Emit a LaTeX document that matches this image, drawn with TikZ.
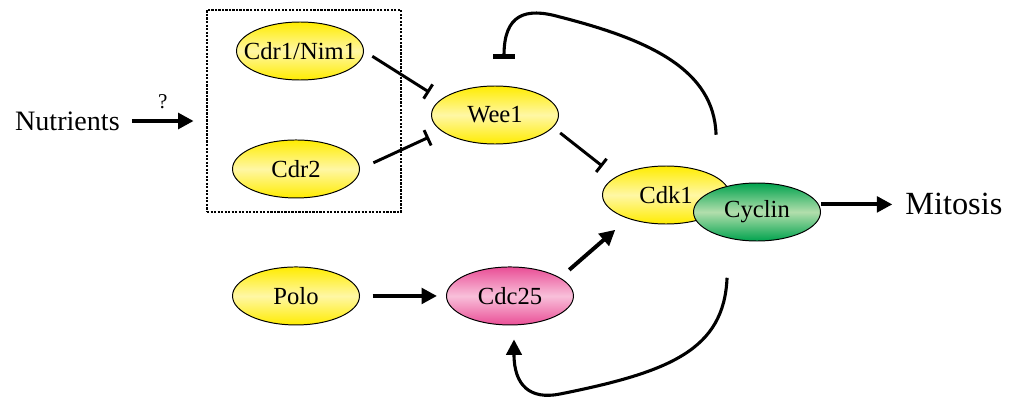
\documentclass[tikz,border=0pt]{standalone}
\usepackage{fontspec}
\setmainfont{Liberation Serif}
\usetikzlibrary{arrows.meta, shapes.geometric, positioning, calc}
\definecolor{yelout}{RGB}{255,236,0}
\definecolor{yelin}{RGB}{255,247,165}
\definecolor{pinkout}{RGB}{234,78,150}
\definecolor{pinkin}{RGB}{248,192,218}
\definecolor{greenout}{RGB}{0,163,78}
\definecolor{greenin}{RGB}{178,222,172}
\tikzset{> = { Triangle[length = 11pt, width = 11pt] }}

\begin{document}
\begin{tikzpicture}[prot/.style = { ellipse, draw, line width = 0.7pt, minimum width = 3.175cm, minimum height = 1.45cm, inner sep = 0pt, font = \fontsize{17.5}{20}\selectfont },
		yprot/.style = { prot, top color = yelout, bottom color = yelout, middle color = yelin },
		pprot/.style = { prot, top color = pinkout, bottom color = pinkout, middle color = pinkin },
		gprot/.style = { prot, top color = greenout, bottom color = greenout, middle color = greenin },
		act/.style = { ->, line width = 2.8pt },
		inh/.style = { -{Bar[width = 12pt]}, line width = 2.1pt },
		dotbox/.style = { draw, line width = 2pt, dash pattern = on 1.6pt off 0.9pt }]
		\useasboundingbox (0,0) rectangle (25.5,9.95);

		\node [yprot, inner xsep = -0.35cm] (cdr1) at (7.5,8.675) {Cdr1/Nim1};
		\node [yprot, below = 1.475 of cdr1, xshift = -0.1cm] (cdr2) {Cdr2};
		\node [yprot, below = 1.7 of cdr2] (polo) {Polo};
		\node [pprot, right = 2.15 of polo] (cdc25) {Cdc25};
		\node [yprot] (wee1) at (12.375,7.075) {Wee1};
		\node [yprot] (cdk1) at (16.65,5.075) {Cdk1};
		\node [gprot] (cyclin) at (18.925,4.65) {Cyclin};

		\node [dotbox, minimum width = 4.85cm, minimum height = 5.05cm] (box) at (7.6,7.175) {};
		\node [font = \fontsize{20}{24}\selectfont, inner sep = 0pt, anchor = east] (nutri) at (3.0,6.925) {Nutrients};
		\node [font = \fontsize{23}{27}\selectfont, inner sep = 0pt, anchor = west] (mitosis) at (22.625,4.84) {Mitosis};

		% the Cdk1/Cyclin complex, where both feedback loops leave it
		\coordinate (cplx) at ($(cdk1)!0.55!(cyclin)$);
		\coordinate (topbend) at (14,9.525);
		\coordinate (botbend) at (14,0.1);

		\draw [act, shorten <= 8.5pt, shorten >= 8.5pt] (nutri.east) -- node[above = 4pt, font = \fontsize{15}{17}\selectfont]{?} (nutri.east -| box.west);
		\draw [act, shorten >= 9pt] (cyclin.east |- mitosis.west) -- (mitosis.west);

		\draw [inh, shorten <= 7pt, shorten >= 9.5pt] (cdr1.east) -- (wee1.164);
		\draw [inh, shorten <= 10.5pt, shorten >= 10pt] (cdr2.east) -- (wee1.197);
		\draw [inh, shorten <= 6.4pt, shorten >= 12pt] (wee1.-12) -- (cdk1.160);

		\draw [act, shorten <= 9pt, shorten >= 6.4pt] (polo.east) -- (cdc25.west);
		\draw [act, shorten <= 8.5pt, shorten >= 12pt] (cdc25.20) -- (cdk1.212);

		\draw [-{Bar[width = 15pt, line width = 3pt]}, line width = 2.2pt] ([yshift = 1.74cm]cplx) .. controls +(-0.05,1.625) and +(2.25,-0.575) .. (topbend) .. controls +(-0.875,0.25) and +(0,1.1) .. ([shift = {(0.225,0.675)}]wee1.north);
		\draw [act, line width = 2.2pt] ([shift = {(0.275,-1.835)}]cplx) .. controls +(-0.075,-1.8) and +(2.75,0.55) .. (botbend) .. controls +(-0.75,-0.15) and +(0,-1.15) .. ([shift = {(0.1,-0.35)}]cdc25.south);
	\end{tikzpicture}
\end{document}
